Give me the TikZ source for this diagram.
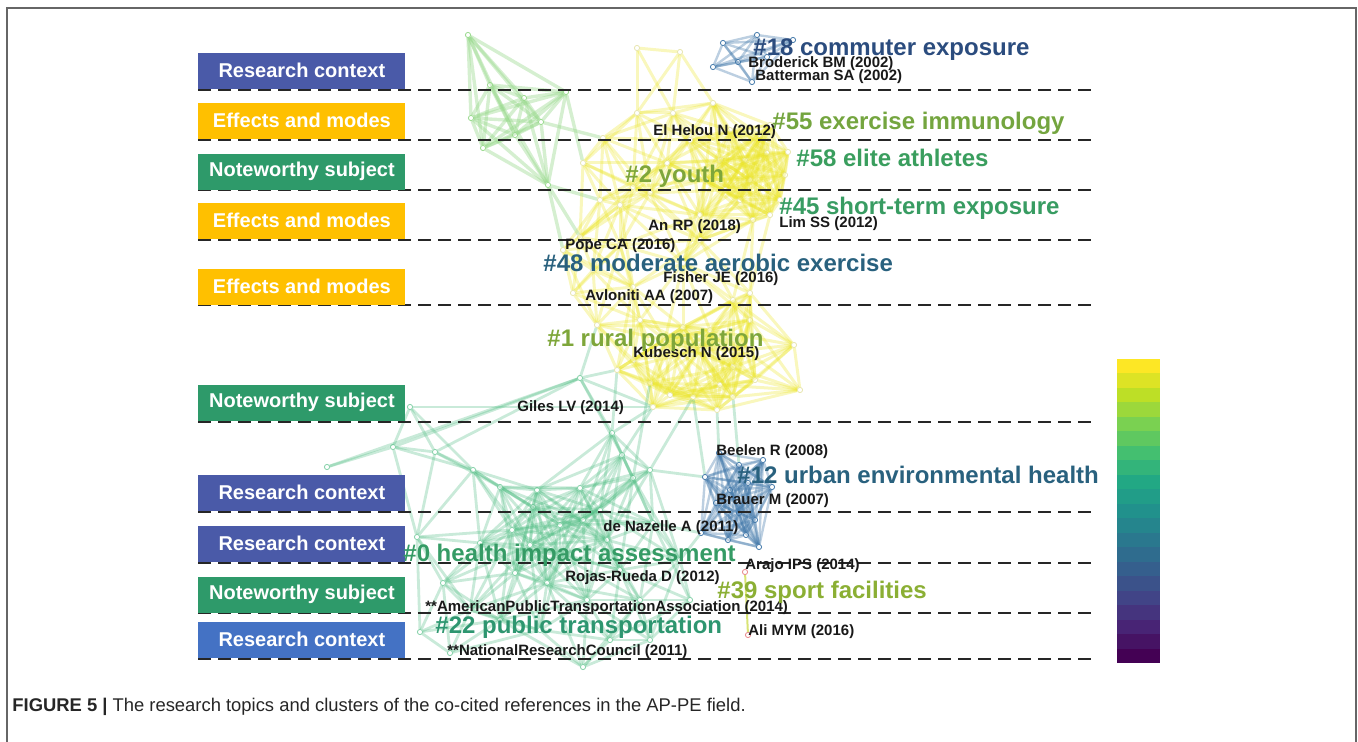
\documentclass[tikz,border=0pt]{standalone}
\usepackage{fontspec}
\setmainfont{Liberation Sans}
\usetikzlibrary{calc}
\definecolor{RCc}{HTML}{4A5AA8}
\definecolor{RCd}{HTML}{4472C4}
\definecolor{EMc}{HTML}{FFC000}
\definecolor{NSc}{HTML}{2E9A6A}
\definecolor{Ae}{HTML}{96D88A}
\definecolor{Ye}{HTML}{EAE424}
\definecolor{Ge}{HTML}{4CBB80}
\definecolor{Be}{HTML}{3F76A8}
\definecolor{Se}{HTML}{C9D83A}
\definecolor{Pk}{HTML}{E8868A}
\definecolor{Kblue}{HTML}{2B4C7E}
\definecolor{Kteal}{HTML}{29617E}
\definecolor{Kgreen}{HTML}{3A9E5E}
\definecolor{Kolive}{HTML}{7EA63A}
\definecolor{Kmint}{HTML}{2E9670}
\definecolor{v0}{HTML}{440154}
\definecolor{v1}{HTML}{482475}
\definecolor{v2}{HTML}{414487}
\definecolor{v3}{HTML}{355F8D}
\definecolor{v4}{HTML}{2A788E}
\definecolor{v5}{HTML}{21918C}
\definecolor{v6}{HTML}{22A884}
\definecolor{v7}{HTML}{44BF70}
\definecolor{v8}{HTML}{7AD151}
\definecolor{v9}{HTML}{BDDF26}
\definecolor{v10}{HTML}{FDE725}
\tikzset{
  topic/.style={anchor=south west, minimum width=103.5pt, minimum height=18pt, inner sep=0pt, text=white, font=\fontsize{10}{12}\selectfont\bfseries},
  clab/.style={anchor=base west, inner sep=0pt, font=\fontsize{12}{14}\selectfont\bfseries},
  rlab/.style={anchor=base west, inner sep=0pt, text=black!90, font=\fontsize{7.5}{9}\selectfont\bfseries},
  sepline/.style={black!85, line width=1.35pt, dash pattern=on 6.5pt off 3.5pt},
  ae/.style={Ae, opacity=0.4, line width=1.7pt},
  ye/.style={Ye, opacity=0.3, line width=1.5pt},
  ge/.style={Ge, opacity=0.3, line width=1.4pt},
  be/.style={Be, opacity=0.35, line width=1.2pt},
  se/.style={Se, opacity=0.7, line width=1pt},
  adot/.style={circle, draw=Ae, inner sep=0pt, minimum size=2.6pt, line width=0.4pt},
  ydot/.style={circle, draw=Ye!80!black!60, inner sep=0pt, minimum size=2.6pt, line width=0.4pt, opacity=0.6},
  gdot/.style={circle, draw=Ge, inner sep=0pt, minimum size=2.6pt, line width=0.4pt, opacity=0.7},
  bdot/.style={circle, draw=Be, inner sep=0pt, minimum size=2.6pt, line width=0.4pt},
  pdot/.style={circle, draw=Pk, inner sep=0pt, minimum size=2.6pt, line width=0.4pt},
}
% dots of one cluster, named prefix1, prefix2, ...
\newcommand{\placedots}[3]{%
  \foreach \p [count=\n] in {#2} \node[#3] (#1\n) at \p {};}
% links between dots of one cluster closer than #3
\newcommand{\mesh}[4]{%
  \foreach \i in {1,...,#2}{%
    \foreach \j in {\i,...,#2}{%
      \ifnum\i<\j
        \path let \p1=(#1\i), \p2=(#1\j) in
          \pgfextra{\pgfmathsetmacro\dd{veclen(\x2-\x1,\y2-\y1)}\global\let\dd\dd};
        \ifdim\dd pt<#3pt \draw[#4] (#1\i) -- (#1\j);\fi
      \fi}}}

\begin{document}
\begin{tikzpicture}[x=0.5pt,y=-0.5pt]
  \useasboundingbox (0,0) rectangle (1358,742);
  \draw[black!60, line width=0.8pt] (7,742) -- (7,8) -- (1356,8) -- (1356,742);

  % network
  \placedots{a}{(468,35),(490,85),(524,98),(471,118),(515,135),(483,148),(566,92),(541,122),(548,185)}{adot}
  \placedots{y}{(637,48),(680,52),(637,113),(673,113),(713,103),(583,163),(603,138),(600,200),(620,205),(633,187),
    (650,193),(667,163),(767,153),(750,180),(740,200),(753,220),(788,152),(700,215),(780,200),(720,160),
    (580,237),(563,250),(593,270),(573,293),(633,287),(683,263),(733,300),(750,293),(620,245),(700,240),
    (597,325),(617,370),(633,360),(650,383),(653,407),(693,397),(717,410),(733,397),(733,367),(683,327),
    (750,320),(700,350),(665,340),(755,380),(794,345),(800,390),(770,125),(730,130),(690,140),(705,180),
    (760,135),(785,175),(725,190),(770,215),(745,160),(640,320),(710,330),(720,385),(670,395),(745,350)}{ydot}
  \placedots{g}{(327,467),(393,447),(410,407),(435,452),(580,378),(612,433),(622,455),(633,478),(650,470),(580,488),
    (537,490),(500,487),(473,470),(512,530),(560,525),(583,520),(607,540),(653,523),(515,573),(547,583),
    (443,583),(587,600),(420,632),(450,653),(583,667),(480,543),(533,507),(417,537),(640,600),(500,620),
    (620,570),(680,560),(540,630),(470,610),(610,640),(690,600),(650,640),(560,555),(530,545),(600,510)}{gdot}
  \placedots{b}{(719,453),(739,465),(763,460),(705,477),(716,503),(739,513),(748,483),(701,533),(728,540),(746,535),
    (759,547),(772,487),(730,490),(755,520)}{bdot}
  \placedots{c}{(723,43),(757,35),(713,67),(738,62),(752,82),(767,57),(793,40)}{bdot}
  \placedots{s}{(745,572),(748,635)}{pdot}

  \mesh{a}{9}{60}{ae}
  \mesh{y}{60}{44}{ye}
  \mesh{g}{40}{48}{ge}
  \mesh{b}{14}{200}{be}
  \mesh{c}{7}{200}{be}
  \foreach \u/\v in {a9/y21,a9/y22,a9/y8,a7/y6,a8/y7} \draw[ae] (\u) -- (\v);
  \foreach \u/\v in {y35/g3,g5/y32,g5/y35,g1/g5,g4/g5,g2/g5,g6/y35,g7/y35,g8/y34,g9/y36,g6/y32,g5/y31,
    y37/b1,y36/b4,g9/b4,g18/b8,g32/b8,y38/b2} \draw[ge] (\u) -- (\v);
  \draw[se] (s1) -- (s2);

  % rows
  \foreach \yy in {90,140,190,240,305,422,512,563,613,659}
    \draw[sepline] (198,\yy) -- (1092,\yy);
  \node[topic, fill=RCc] (rc1) at (198,89) {Research context};
  \node[topic, fill=EMc] (em1) at (198,139) {Effects and modes};
  \node[topic, fill=NSc] (ns1) at (198,190) {Noteworthy subject};
  \node[topic, fill=EMc] (em2) at (198,239) {Effects and modes};
  \node[topic, fill=EMc] (em3) at (198,305) {Effects and modes};
  \node[topic, fill=NSc] (ns2) at (198,421) {Noteworthy subject};
  \node[topic, fill=RCc] (rc2) at (198,511) {Research context};
  \node[topic, fill=RCc] (rc3) at (198,562) {Research context};
  \node[topic, fill=NSc] (ns3) at (198,613) {Noteworthy subject};
  \node[topic, fill=RCd] (rc4) at (198,658) {Research context};

  % cited references
  \node[rlab] (broderick) at (748,68) {Broderick BM (2002)};
  \node[rlab] (batterman) at (755,81) {Batterman SA (2002)};
  \node[rlab] (elhelou) at (653,136) {El Helou N (2012)};
  \node[rlab] (lim) at (779,228) {Lim SS (2012)};
  \node[rlab] (an) at (648,231) {An RP (2018)};
  \node[rlab] (pope) at (565,250) {Pope CA (2016)};
  \node[rlab] (fisher) at (663,283) {Fisher JE (2016)};
  \node[rlab] (avloniti) at (585,301) {Avloniti AA (2007)};
  \node[rlab] (kubesch) at (633,358) {Kubesch N (2015)};
  \node[rlab] (giles) at (517,412) {Giles LV (2014)};
  \node[rlab] (beelen) at (716,455) {Beelen R (2008)};
  \node[rlab] (brauer) at (716,504) {Brauer M (2007)};
  \node[rlab] (nazelle) at (603,531) {de Nazelle A (2011)};
  \node[rlab] (arajo) at (745,569) {Arajo IPS (2014)};
  \node[rlab] (rojas) at (565,581) {Rojas-Rueda D (2012)};
  \node[rlab] (apta) at (425,611) {**AmericanPublicTransportationAssociation (2014)};
  \node[rlab] (ali) at (748,635) {Ali MYM (2016)};
  \node[rlab] (nrc) at (447,655) {**NationalResearchCouncil (2011)};

  % clusters
  \node[clab, text=Kblue] (k18) at (753,56) {\#18 commuter exposure};
  \node[clab, text=Kolive!85!Kgreen] (k55) at (772,130) {\#55 exercise immunology};
  \node[clab, text=Kgreen] (k58) at (796,167) {\#58 elite athletes};
  \node[clab, text=Kolive] (k2) at (625,183) {\#2 youth};
  \node[clab, text=Kgreen!80!Kmint] (k45) at (779,215) {\#45 short-term exposure};
  \node[clab, text=Kteal] (k48) at (543,272) {\#48 moderate aerobic exercise};
  \node[clab, text=Kolive] (k1) at (547,347) {\#1 rural population};
  \node[clab, text=Kteal] (k12) at (737,483) {\#12 urban environmental health};
  \node[clab, text=Kgreen!60!Kmint] (k0) at (403,561) {\#0 health impact assessment};
  \node[clab, text=Kolive!90!yellow] (k39) at (717,598) {\#39 sport facilities};
  \node[clab, text=Kmint] (k22) at (435,633) {\#22 public transportation};

  % colour bar
  \foreach \j [evaluate=\j as \k using int(\j+1)] in {0,...,9}{
    \fill[v\j] (1117,{663-2*\j*14.48}) rectangle (1160,{663-(2*\j+1)*14.48});
    \fill[v\j!50!v\k] (1117,{663-(2*\j+1)*14.48}) rectangle (1160,{663-(2*\j+2)*14.48});}
  \fill[v10] (1117,{663-20*14.48}) rectangle (1160,359);

  \node[anchor=base west, inner sep=0pt, text=black!85, font=\fontsize{9.2}{11}\selectfont] (caption) at (12,711)
    {\textbf{FIGURE 5 |} The research topics and clusters of the co-cited references in the AP-PE field.};
\end{tikzpicture}
\end{document}
